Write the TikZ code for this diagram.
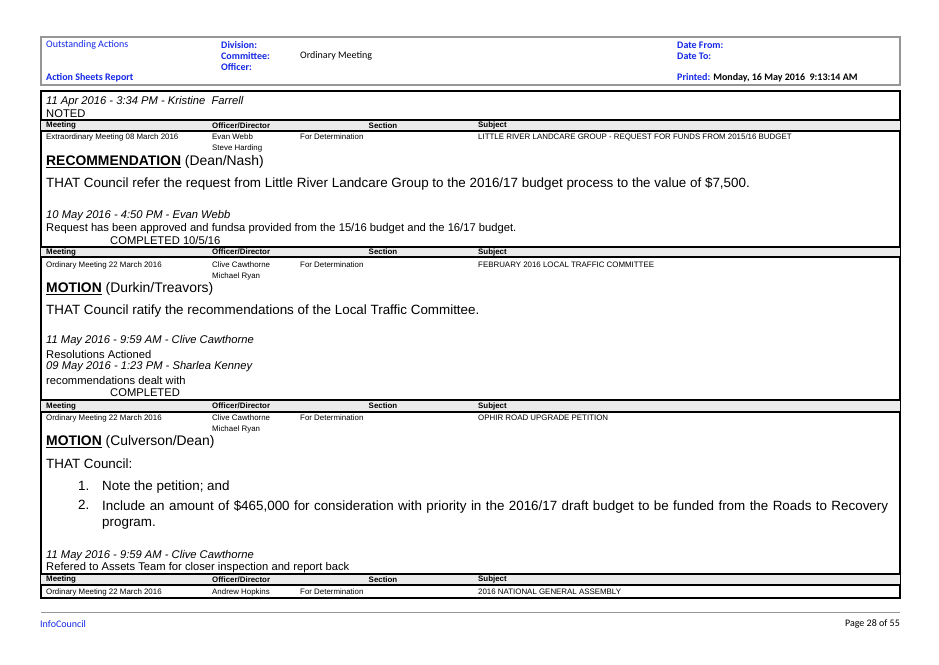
\documentclass[tikz,border=0pt]{standalone}
\usepackage{fontspec}
\setmainfont{Liberation Sans}
\newfontfamily\calib{Carlito}
\definecolor{hblue}{RGB}{20,40,230}
\definecolor{hgray}{RGB}{150,150,150}
\definecolor{rowgray}{RGB}{235,235,235}
\tikzset{
 x=1pt,y=-1pt,
 t/.style={anchor=west,inner sep=0pt,font=\fontsize{7.9}{9}\selectfont},
 th/.style={t,font=\fontsize{7.9}{9}\selectfont\bfseries},
 hd/.style={anchor=west,inner sep=0pt,font=\calib\fontsize{10}{11}\selectfont\bfseries,text=hblue},
 hdn/.style={anchor=west,inner sep=0pt,font=\calib\fontsize{10}{11}\selectfont},
 it/.style={anchor=west,inner sep=0pt,font=\fontsize{11.2}{12}\selectfont\itshape},
 nm/.style={anchor=west,inner sep=0pt,font=\fontsize{11.2}{12}\selectfont},
 big/.style={anchor=west,inner sep=0pt,font=\fontsize{13.4}{15}\selectfont},
 mot/.style={anchor=west,inner sep=0pt,font=\fontsize{13.9}{15}\selectfont},
}
\newcommand{\hrow}[2]{%
 \fill[rowgray] (41,#1) rectangle (900,#2);
 \draw[line width=1.4pt] (41,#1) -- (900,#1);
 \draw[line width=1.4pt] (41,#2) -- (900,#2);
 \path (46,{(#1+#2)/2}) node[th] {Meeting} (212,{(#1+#2)/2}) node[th] {Officer/Director}
  (383,{(#1+#2)/2}) node[th,anchor=center] {Section} (478,{(#1+#2)/2}) node[th] {Subject};}
\begin{document}
\begin{tikzpicture}
\useasboundingbox[fill=white] (0,0) rectangle (939,664);
% header
\draw[hgray,line width=1.2pt] (41,37) rectangle (900,85);
\node[hd,font=\calib\fontsize{10}{11}\selectfont] (oa) at (46,45) {Outstanding Actions};
\node[hd] (div) at (221,45) {Division:};
\node[hd] (com) at (221,56) {Committee:};
\node[hd] (off) at (221,67) {Officer:};
\node[hdn] (om) at (300,56) {Ordinary Meeting};
\node[hd] (df) at (677,45) {Date From:};
\node[hd] (dt) at (677,56) {Date To:};
\node[hd] (asr) at (46,78) {Action Sheets Report};
\node[hd] (pr) at (677,78) {Printed: \textcolor{black}{Monday, 16 May 2016\ \ 9:13:14 AM}};
% main box
\draw[line width=1.2pt] (41,91) rectangle (900,598);
\node[it] (a1) at (46,102) {11 Apr 2016 - 3:34 PM - Kristine\ \ Farrell};
\node[nm] (a2) at (46,114) {NOTED};
\hrow{120}{131}
\node[t] (r1a) at (46,137) {Extraordinary Meeting 08 March 2016};
\node[t] (r1b) at (212,137) {Evan Webb};
\node[t] (r1c) at (212,148) {Steve Harding};
\node[t] (r1d) at (300,137) {For Determination};
\node[t] (r1e) at (478,137) {LITTLE RIVER LANDCARE GROUP - REQUEST FOR FUNDS FROM 2015/16 BUDGET};
\node[mot] (rec) at (46,162) {\textbf{\underline{RECOMMENDATION}} (Dean/Nash)};
\node[big] (tc1) at (46,184) {THAT Council refer the request from Little River Landcare Group to the 2016/17 budget process to the value of \$7,500.};
\node[it] (b1) at (46,216) {10 May 2016 - 4:50 PM - Evan Webb};
\node[nm] (b2) at (46,229) {Request has been approved and fundsa provided from the 15/16 budget and the 16/17 budget.};
\node[nm] (b3) at (110,240) {COMPLETED 10/5/16};
\hrow{247}{257}
\node[t] (r2a) at (46,265) {Ordinary Meeting 22 March 2016};
\node[t] (r2b) at (212,265) {Clive Cawthorne};
\node[t] (r2c) at (212,276) {Michael Ryan};
\node[t] (r2d) at (300,265) {For Determination};
\node[t] (r2e) at (478,265) {FEBRUARY 2016 LOCAL TRAFFIC COMMITTEE};
\node[mot] (m1) at (46,289) {\textbf{\underline{MOTION}} (Durkin/Treavors)};
\node[big] (tc2) at (46,311) {THAT Council ratify the recommendations of the Local Traffic Committee.};
\node[it] (c1) at (46,341) {11 May 2016 - 9:59 AM - Clive Cawthorne};
\node[nm] (c2) at (46,354) {Resolutions Actioned};
\node[it] (c3) at (46,367) {09 May 2016 - 1:23 PM - Sharlea Kenney};
\node[nm] (c4) at (46,380) {recommendations dealt with};
\node[nm] (c5) at (110,393) {COMPLETED};
\hrow{400}{412}
\node[t] (r3a) at (46,418) {Ordinary Meeting 22 March 2016};
\node[t] (r3b) at (212,418) {Clive Cawthorne};
\node[t] (r3c) at (212,429) {Michael Ryan};
\node[t] (r3d) at (300,418) {For Determination};
\node[t] (r3e) at (478,418) {OPHIR ROAD UPGRADE PETITION};
\node[mot] (m2) at (46,442) {\textbf{\underline{MOTION}} (Culverson/Dean)};
\node[big] (tc3) at (46,464) {THAT Council:};
\node[big] (i1) at (102,487) {Note the petition; and};
\node[big,anchor=base west] (n1) at ([xshift=-24pt]i1.base west) {1.};
\node[big,anchor=north west,text width=786pt,align=justify,font=\fontsize{13.4}{16}\selectfont] (i2) at (102,500) {Include an amount of \$465,000 for consideration with priority in the 2016/17 draft budget to be funded from the Roads to Recovery program.};
\node[big,anchor=base west] (n2) at ([xshift=-24pt,yshift=-9.8pt]i2.north west) {2.};
\node[it] (d1) at (46,556) {11 May 2016 - 9:59 AM - Clive Cawthorne};
\node[nm] (d2) at (46,568) {Refered to Assets Team for closer inspection and report back};
\hrow{574}{585}
\node[t] (r4a) at (46,592) {Ordinary Meeting 22 March 2016};
\node[t] (r4b) at (212,592) {Andrew Hopkins};
\node[t] (r4d) at (300,592) {For Determination};
\node[t] (r4e) at (478,592) {2016 NATIONAL GENERAL ASSEMBLY};
% footer
\draw[hgray,line width=0.8pt] (41,612) -- (900,612);
\node[hdn,text=hblue] (ic) at (40,624) {InfoCouncil};
\node[hdn,anchor=east] (pg) at (900,624) {Page 28 of 55};
\end{tikzpicture}
\end{document}
